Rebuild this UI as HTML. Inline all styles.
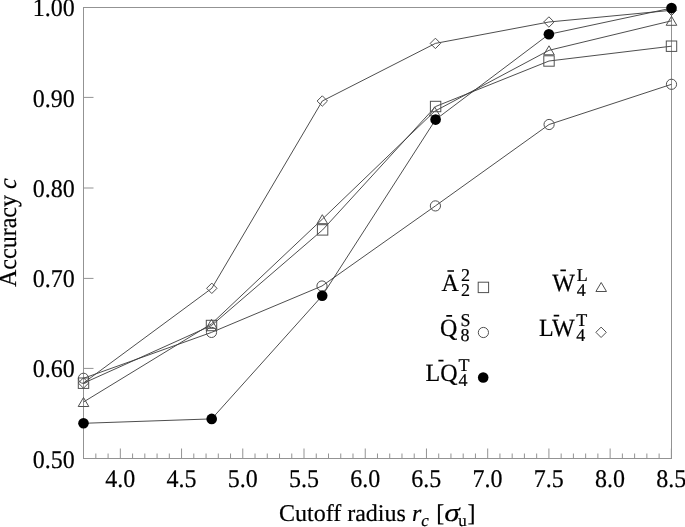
<!DOCTYPE html>
<html><head><meta charset="utf-8"><style>
html,body{margin:0;padding:0;background:#fff;overflow:hidden;}
svg{display:block;}
text{font-family:"Liberation Serif", serif;fill:#000;text-rendering:geometricPrecision;stroke:#000;stroke-width:0.2px;}
.w{will-change:transform;width:685px;height:527px;}
</style></head><body>
<div class="w"><svg width="685" height="527" viewBox="0 0 685 527">
<rect width="685" height="527" fill="#fff"/>
<rect x="83.5" y="7.5" width="588" height="451" fill="none" stroke="#939393" stroke-width="1"/>
<path d="M95.84 458.5V453.5 M108.09 458.5V453.5 M120.33 458.5V448.5 M132.58 458.5V453.5 M144.82 458.5V453.5 M157.07 458.5V453.5 M169.32 458.5V453.5 M181.56 458.5V448.5 M193.81 458.5V453.5 M206.05 458.5V453.5 M218.30 458.5V453.5 M230.54 458.5V453.5 M242.78 458.5V448.5 M255.03 458.5V453.5 M267.28 458.5V453.5 M279.52 458.5V453.5 M291.77 458.5V453.5 M304.01 458.5V448.5 M316.26 458.5V453.5 M328.50 458.5V453.5 M340.75 458.5V453.5 M352.99 458.5V453.5 M365.24 458.5V448.5 M377.48 458.5V453.5 M389.73 458.5V453.5 M401.97 458.5V453.5 M414.22 458.5V453.5 M426.46 458.5V448.5 M438.71 458.5V453.5 M450.95 458.5V453.5 M463.20 458.5V453.5 M475.44 458.5V453.5 M487.69 458.5V448.5 M499.93 458.5V453.5 M512.18 458.5V453.5 M524.42 458.5V453.5 M536.67 458.5V453.5 M548.91 458.5V448.5 M561.16 458.5V453.5 M573.40 458.5V453.5 M585.65 458.5V453.5 M597.89 458.5V453.5 M610.13 458.5V448.5 M622.38 458.5V453.5 M634.62 458.5V453.5 M646.87 458.5V453.5 M659.12 458.5V453.5 M671.36 458.5V448.5 M83.5 368.4H93.5 M83.5 278.4H93.5 M83.5 188.0H93.5 M83.5 97.4H93.5" stroke="#939393" stroke-width="1" fill="none"/>
<text transform="translate(74.80,467.50) scale(1,1.06)" font-size="24" text-anchor="end">0.50</text>
<text transform="translate(74.80,377.28) scale(1,1.06)" font-size="24" text-anchor="end">0.60</text>
<text transform="translate(74.80,287.06) scale(1,1.06)" font-size="24" text-anchor="end">0.70</text>
<text transform="translate(74.80,196.84) scale(1,1.06)" font-size="24" text-anchor="end">0.80</text>
<text transform="translate(74.80,106.62) scale(1,1.06)" font-size="24" text-anchor="end">0.90</text>
<text transform="translate(74.80,16.40) scale(1,1.06)" font-size="24" text-anchor="end">1.00</text>
<text transform="translate(120.23,486.60) scale(1,1.06)" font-size="24" text-anchor="middle">4.0</text>
<text transform="translate(181.46,486.60) scale(1,1.06)" font-size="24" text-anchor="middle">4.5</text>
<text transform="translate(242.68,486.60) scale(1,1.06)" font-size="24" text-anchor="middle">5.0</text>
<text transform="translate(303.91,486.60) scale(1,1.06)" font-size="24" text-anchor="middle">5.5</text>
<text transform="translate(365.13,486.60) scale(1,1.06)" font-size="24" text-anchor="middle">6.0</text>
<text transform="translate(426.36,486.60) scale(1,1.06)" font-size="24" text-anchor="middle">6.5</text>
<text transform="translate(487.58,486.60) scale(1,1.06)" font-size="24" text-anchor="middle">7.0</text>
<text transform="translate(548.81,486.60) scale(1,1.06)" font-size="24" text-anchor="middle">7.5</text>
<text transform="translate(610.03,486.60) scale(1,1.06)" font-size="24" text-anchor="middle">8.0</text>
<text transform="translate(671.26,486.60) scale(1,1.06)" font-size="24" text-anchor="middle">8.5</text>
<text transform="translate(279,521)" font-size="24">Cutoff radius <tspan font-style="italic">r</tspan><tspan font-style="italic" font-size="17" dy="5">c</tspan></text>
<text transform="translate(436.2,521)" font-size="24">[</text>
<text transform="translate(444.3,521.2) scale(1.2,1)" font-size="26" font-style="italic">σ</text>
<text transform="translate(458.2,525.6)" font-size="17">u</text>
<text transform="translate(467.4,521)" font-size="24">]</text>
<text transform="translate(16,287) rotate(-90) scale(1,1.04)" font-size="24">Accuracy <tspan font-style="italic">c</tspan></text>
<polyline points="83.5,383.2 211.5,325.5 322.6,229.9 435.6,106.5 549.0,61.0 671.5,46.2" fill="none" stroke="#3a3a3a" stroke-width="0.9"/>
<polyline points="83.5,378.3 211.5,332.4 322.0,286.0 435.4,205.9 549.1,124.5 671.5,84.3" fill="none" stroke="#3a3a3a" stroke-width="0.9"/>
<polyline points="83.5,423.3 211.7,418.9 322.2,295.8 435.6,119.6 548.9,34.3 671.5,8.1" fill="none" stroke="#3a3a3a" stroke-width="0.9"/>
<polyline points="83.5,402.0 211.5,323.8 322.3,219.2 434.6,111.3 549.0,50.3 671.5,20.8" fill="none" stroke="#3a3a3a" stroke-width="0.9"/>
<polyline points="83.5,383.0 211.8,288.3 322.3,101.0 435.4,43.4 548.9,22.0 671.5,10.3" fill="none" stroke="#3a3a3a" stroke-width="0.9"/>
<path d="M83.5 377.8L88.7 383.0L83.5 388.2L78.3 383.0Z" fill="none" stroke="#505050" stroke-width="1"/>
<path d="M211.8 283.1L217.0 288.3L211.8 293.5L206.6 288.3Z" fill="none" stroke="#505050" stroke-width="1"/>
<path d="M322.3 95.8L327.5 101.0L322.3 106.2L317.1 101.0Z" fill="none" stroke="#505050" stroke-width="1"/>
<path d="M435.4 38.2L440.6 43.4L435.4 48.6L430.2 43.4Z" fill="none" stroke="#505050" stroke-width="1"/>
<path d="M548.9 16.8L554.1 22.0L548.9 27.2L543.7 22.0Z" fill="none" stroke="#505050" stroke-width="1"/>
<path d="M671.5 5.1L676.7 10.3L671.5 15.5L666.3 10.3Z" fill="none" stroke="#505050" stroke-width="1"/>
<rect x="78.3" y="378.0" width="10.4" height="10.4" fill="none" stroke="#505050" stroke-width="1"/>
<rect x="206.3" y="320.3" width="10.4" height="10.4" fill="none" stroke="#505050" stroke-width="1"/>
<rect x="317.4" y="224.7" width="10.4" height="10.4" fill="none" stroke="#505050" stroke-width="1"/>
<rect x="430.4" y="101.3" width="10.4" height="10.4" fill="none" stroke="#505050" stroke-width="1"/>
<rect x="543.8" y="55.8" width="10.4" height="10.4" fill="none" stroke="#505050" stroke-width="1"/>
<rect x="666.3" y="41.0" width="10.4" height="10.4" fill="none" stroke="#505050" stroke-width="1"/>
<circle cx="83.5" cy="378.3" r="5.1" fill="none" stroke="#505050" stroke-width="1"/>
<circle cx="211.5" cy="332.4" r="5.1" fill="none" stroke="#505050" stroke-width="1"/>
<circle cx="322.0" cy="286.0" r="5.1" fill="none" stroke="#505050" stroke-width="1"/>
<circle cx="435.4" cy="205.9" r="5.1" fill="none" stroke="#505050" stroke-width="1"/>
<circle cx="549.1" cy="124.5" r="5.1" fill="none" stroke="#505050" stroke-width="1"/>
<circle cx="671.5" cy="84.3" r="5.1" fill="none" stroke="#505050" stroke-width="1"/>
<path d="M83.5 397.5L88.8 406.5H78.2Z" fill="none" stroke="#505050" stroke-width="1"/>
<path d="M211.5 319.3L216.8 328.3H206.2Z" fill="none" stroke="#505050" stroke-width="1"/>
<path d="M322.3 214.7L327.6 223.7H317.0Z" fill="none" stroke="#505050" stroke-width="1"/>
<path d="M434.6 106.8L439.9 115.8H429.3Z" fill="none" stroke="#505050" stroke-width="1"/>
<path d="M549.0 45.8L554.3 54.8H543.7Z" fill="none" stroke="#505050" stroke-width="1"/>
<path d="M671.5 16.3L676.8 25.3H666.2Z" fill="none" stroke="#505050" stroke-width="1"/>
<circle cx="83.5" cy="423.3" r="5.3" fill="#000"/>
<circle cx="211.7" cy="418.9" r="5.3" fill="#000"/>
<circle cx="322.2" cy="295.8" r="5.3" fill="#000"/>
<circle cx="435.6" cy="119.6" r="5.3" fill="#000"/>
<circle cx="548.9" cy="34.3" r="5.3" fill="#000"/>
<circle cx="671.5" cy="8.1" r="5.3" fill="#000"/>
<text transform="translate(441.50,290.50) scale(1,1.03)" font-size="24">A</text>
<text transform="translate(461.00,281.20)" font-size="18">2</text>
<text transform="translate(461.00,295.60)" font-size="18">2</text>
<text transform="translate(440.00,336.30) scale(1,1.03)" font-size="24">Q</text>
<text transform="translate(460.50,326.00)" font-size="18">S</text>
<text transform="translate(460.50,341.40)" font-size="18">8</text>
<text transform="translate(425.50,381.30) scale(1,1.03)" font-size="24">LQ</text>
<text transform="translate(458.50,371.00)" font-size="18">T</text>
<text transform="translate(458.50,386.40)" font-size="18">4</text>
<text transform="translate(552.30,291.30) scale(1,1.03)" font-size="24">W</text>
<text transform="translate(576.80,281.10)" font-size="18">L</text>
<text transform="translate(576.80,295.60)" font-size="18">4</text>
<text transform="translate(539.00,335.60) scale(1,1.03)" font-size="24">LW</text>
<text transform="translate(576.30,325.50)" font-size="18">T</text>
<text transform="translate(576.30,341.30)" font-size="18">4</text>
<path d="M447.4 271.0H454M446.3 315.9H452.1M438.4 360.6H443.5M560.4 270.4H565.9M553.7 315.6H559.2" stroke="#000" stroke-width="1.7"/>
<rect x="478.2" y="282.2" width="10.4" height="10.4" fill="none" stroke="#505050" stroke-width="1"/>
<circle cx="483.4" cy="332.5" r="5.1" fill="none" stroke="#505050" stroke-width="1"/>
<circle cx="483.2" cy="377.5" r="5.3" fill="#000"/>
<path d="M601.2 282.5L606.5 291.5H595.9Z" fill="none" stroke="#505050" stroke-width="1"/>
<path d="M601.1 327.1L606.3 332.3L601.1 337.5L595.9 332.3Z" fill="none" stroke="#505050" stroke-width="1"/>
</svg></div>
</body></html>
